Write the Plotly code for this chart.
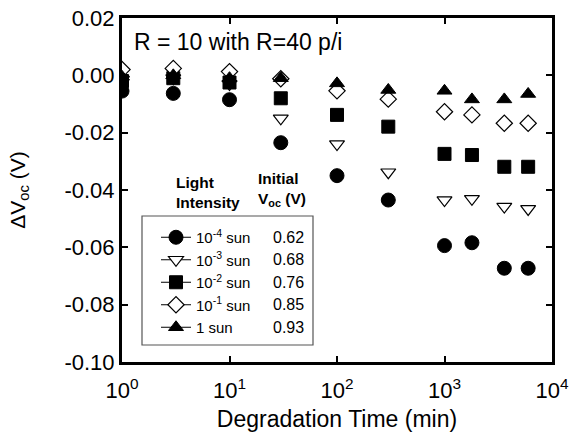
import plotly.graph_objects as go

# ---- data ----
time_min = [1, 3, 10, 30, 100, 300, 1000, 1800, 3600, 6000]
dv_1e4 = [-0.0055, -0.0063, -0.0085, -0.0235, -0.0350, -0.0435, -0.0594, -0.0584, -0.0673, -0.0673]
dv_1e3 = [-0.0015, -0.0010, -0.0030, -0.0150, -0.0240, -0.0338, -0.0435, -0.0431, -0.0458, -0.0466]
dv_1e2 = [-0.0020, -0.0010, -0.0025, -0.0080, -0.0138, -0.0179, -0.0274, -0.0278, -0.0319, -0.0319]
dv_1e1 = [0.0020, 0.0024, 0.0013, -0.0012, -0.0054, -0.0083, -0.0127, -0.0138, -0.0167, -0.0167]
dv_1sun = [-0.0005, 0.0000, -0.0010, -0.0010, -0.0028, -0.0051, -0.0054, -0.0084, -0.0084, -0.0065]

series_names = ["10<sup>-4</sup> sun", "10<sup>-3</sup> sun", "10<sup>-2</sup> sun",
                "10<sup>-1</sup> sun", "1 sun"]
initial_voc = ["0.62", "0.68", "0.76", "0.85", "0.93"]

x_tickvals = [1, 10, 100, 1000, 10000]
x_ticktext = ["10<sup>0</sup>", "10<sup>1</sup>", "10<sup>2</sup>", "10<sup>3</sup>", "10<sup>4</sup>"]
y_tickvals = [0.02, 0.00, -0.02, -0.04, -0.06, -0.08, -0.10]
y_ticktext = ["0.02", "0.00", "-0.02", "-0.04", "-0.06", "-0.08", "-0.10"]

# ---- styles ----
FONT = "Arial, Liberation Sans, sans-serif"
styles = [
    dict(symbol="circle", size=14, color="black", line=dict(color="black", width=1)),
    dict(symbol="triangle-down", size=13, color="white", line=dict(color="black", width=1.2)),
    dict(symbol="square", size=13, color="black", line=dict(color="black", width=1)),
    dict(symbol="diamond", size=12.5, color="white", line=dict(color="black", width=1.2)),
    dict(symbol="triangle-up", size=13, color="black", line=dict(color="black", width=1)),
]
all_series = [dv_1e4, dv_1e3, dv_1e2, dv_1e1, dv_1sun]

fig = go.Figure()
for name, ys, st in zip(series_names, all_series, styles):
    fig.add_trace(go.Scatter(x=time_min, y=ys, mode="markers", marker=st,
                             showlegend=False, name=name))
# legend proxies (line + marker symbol in legend only)
for name, st in zip(series_names, styles):
    fig.add_trace(go.Scatter(x=[None], y=[None], mode="lines+markers", marker=st,
                             line=dict(color="black", width=1), name=name, showlegend=True))

# target plot area (page px): x 122..552, y 18..362 ; body margin removed below
W, H = 575, 438
PL, PR, PT, PB = 122, 552, 18, 362
L, T = PL, PT
R = W - PR
B = H - PB

def px(xp):
    return (xp - PL) / (PR - PL)

def py(yp):
    return (PB - yp) / (PB - PT)

fig.update_layout(
    width=W, height=H,
    margin=dict(l=L, r=R, t=T, b=B, autoexpand=False),
    paper_bgcolor="white", plot_bgcolor="white",
    font=dict(family=FONT, color="black"),
    showlegend=True,
    hovermode=False,
    legend=dict(x=px(156), y=py(221), xanchor="left", yanchor="top",
                bgcolor="rgba(0,0,0,0)", borderwidth=0,
                font=dict(size=15, family=FONT), tracegroupgap=0,
                itemsizing="trace"),
)

fig.update_xaxes(type="log", range=[0, 4], tickvals=x_tickvals, ticktext=x_ticktext,
                 ticks="inside", ticklen=6, tickwidth=2, tickcolor="black",
                 showline=True, linewidth=3, linecolor="black", mirror="allticks",
                 showgrid=False, zeroline=False, ticklabelstandoff=7,
                 ticklabeloverflow="allow",
                 tickfont=dict(size=22, family=FONT),
                 title=dict(text="Degradation Time (min)", font=dict(size=23, family=FONT), standoff=9))
fig.update_yaxes(range=[-0.10, 0.02], tickvals=y_tickvals, ticktext=y_ticktext,
                 ticks="inside", ticklen=6, tickwidth=2, tickcolor="black",
                 showline=True, linewidth=3, linecolor="black", mirror="allticks",
                 showgrid=False, zeroline=False, ticklabeloverflow="allow",
                 tickfont=dict(size=22, family=FONT),
                 title=dict(text="ΔV<sub>oc</sub> (V)", font=dict(size=21, family=FONT), standoff=34))

# legend frame
fig.add_shape(type="rect", xref="paper", yref="paper",
              x0=px(142), x1=px(313), y0=py(345), y1=py(216),
              line=dict(color="#555555", width=1.2), fillcolor="rgba(0,0,0,0)")

# Initial Voc column
row_y = [237.3, 259.8, 282.3, 304.8, 327.3]
for v, ry in zip(initial_voc, row_y):
    fig.add_annotation(x=px(271), y=py(ry), xref="paper", yref="paper", text=v,
                       showarrow=False, xanchor="left", yanchor="middle",
                       font=dict(size=16, family=FONT))

# headers
fig.add_annotation(x=px(174), y=py(192), xref="paper", yref="paper",
                   text="<b>Light</b><br><b>Intensity</b>", showarrow=False,
                   xanchor="left", yanchor="middle", align="left",
                   font=dict(size=15.5, family=FONT))
fig.add_annotation(x=px(256), y=py(189), xref="paper", yref="paper",
                   text="<b>Initial</b><br><b>V<sub>oc</sub> (V)</b>", showarrow=False,
                   xanchor="left", yanchor="middle", align="left",
                   font=dict(size=15.5, family=FONT))

fig.add_annotation(x=px(132), y=py(42), xref="paper", yref="paper",
                   text="R = 10 with R=40 p/i", showarrow=False,
                   xanchor="left", yanchor="middle",
                   font=dict(size=23, family=FONT))

fig.write_html("out.html", config={"displayModeBar": False, "staticPlot": True},
               post_script="document.body.style.margin='0';document.body.style.overflow='hidden';")
